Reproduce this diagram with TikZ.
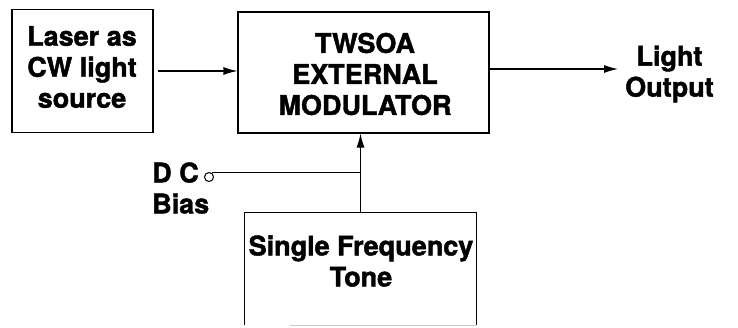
\documentclass[tikz,border=0pt]{standalone}
\usepackage{fontspec}
\setmainfont{TeX Gyre Heros}[BoldFeatures={FakeBold=1.6}]
\usetikzlibrary{arrows.meta}
\begin{document}
\begin{tikzpicture}[x=1pt,y=-1pt,
  lbl/.style={font=\fontsize{27}{31}\selectfont\bfseries, align=center, inner sep=0pt},
  blk/.style={draw, line width=1.1pt, inner sep=0pt},
  conn/.style={line width=1.1pt, -{Latex[length=14pt,width=8pt]}},
  wire/.style={line width=1.1pt}]
\useasboundingbox (0,0) rectangle (738,327);
% blocks
\node[blk, minimum width=141pt, minimum height=123pt] (laser) at (82.5,71) {};
\node[lbl] (lasertxt) at (82,67) {Laser as\\CW light\\source};
\node[blk, minimum width=251pt, minimum height=121pt] (mod) at (363.5,72.5) {};
\node[lbl] (modtxt) at (365,74) {TWSOA\\EXTERNAL\\MODULATOR};
\node[inner sep=0pt, minimum width=231pt, minimum height=112pt] (tone) at (360.5,269) {};
\node[lbl] (tonetxt) at (361,261) {Single Frequency\\Tone};
\draw[wire] (tone.south west) -- (tone.north west) -- (tone.north east) -- (tone.south east);
\draw[line width=1pt, gray!45] ([xshift=45pt]tone.south west) -- (tone.south east);
% output
\node[lbl, anchor=west] (out) at (625,74) {Light\\Output};
\coordinate (outend) at (618,69);
% DC bias
\node[lbl, anchor=west, align=left] (dclbl) at (152,188) {D C\\Bias};
\node[draw, circle, line width=1pt, minimum size=9pt, inner sep=0pt] (bias) at (209,177) {};
% connectors
\draw[conn, shorten <=4pt] (laser.east) -- (laser.east -| mod.west);
\draw[conn] (mod.east |- outend) -- (outend);
\draw[conn] (tone.north) -- (tone.north |- mod.south);
\draw[wire] (bias.60) -- (bias.60 -| tone.north);
\end{tikzpicture}
\end{document}
